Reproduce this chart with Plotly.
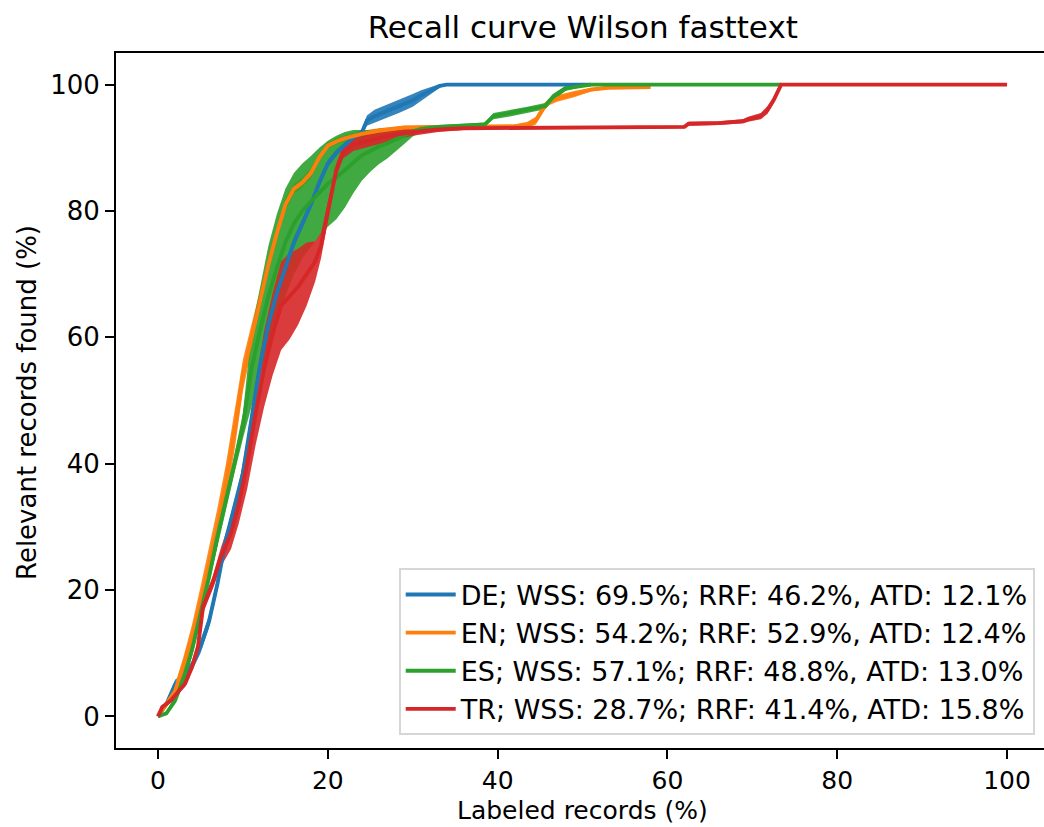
import plotly.graph_objects as go

# ---------------- data ----------------
title_text = "Recall curve Wilson fasttext"
x_label = "Labeled records (%)"
y_label = "Relevant records found (%)"

names = [
    "DE; WSS: 69.5%; RRF: 46.2%, ATD: 12.1%",
    "EN; WSS: 54.2%; RRF: 52.9%, ATD: 12.4%",
    "ES; WSS: 57.1%; RRF: 48.8%, ATD: 13.0%",
    "TR; WSS: 28.7%; RRF: 41.4%, ATD: 15.8%",
]
colors = ["#1f77b4", "#ff7f0e", "#2ca02c", "#d62728"]

de_x = [0, 1, 2, 3, 4, 5, 6, 7, 8, 9, 10, 11, 12, 13, 14, 15, 16, 17, 18, 19, 20, 21, 22, 23, 24,
        24.6, 25.5, 27, 28.5, 30, 31, 32, 33.2, 34, 51]
de_y = [0, 2, 5, 6, 8, 11, 15, 21, 28, 33, 38.5, 47, 55.5, 62, 67, 71, 75, 78, 81, 84.5, 87.5, 89.2, 90.5,
        91.6, 92.4, 94.3, 95, 95.8, 96.6, 97.5, 98.3, 99, 99.8, 100, 100]
de_err = [0.3, 0.5, 0.8, 0.8, 0.8, 1, 1, 1, 1, 1, 1, 1, 1, 1, 1, 1, 1, 0.8, 0.8, 0.8, 0.6, 0.6, 0.5,
          0.5, 0.5, 0.8, 1, 1, 1, 1, 0.8, 0.6, 0.3, 0, 0]

en_x = [0, 1, 2, 3, 4, 5, 6, 7, 8, 9, 10, 11, 12, 13, 14, 15, 16, 17, 18, 19, 20, 21, 22, 24, 26, 29,
        35, 40, 42, 43.5, 44.5, 45.5, 46, 47, 49, 51, 53, 58]
en_y = [0, 2, 4, 8, 12.5, 18, 24, 30, 37, 45, 54, 60, 66, 71.5, 76.5, 81, 83.5, 84.5, 86, 88.5, 90.3,
        91, 91.5, 92.2, 92.7, 93.2, 93.3, 93.3, 93.4, 93.6, 94.3, 96.5, 97.2, 97.8, 98.5, 99.2, 99.5, 99.6]
en_err = [0, 0.5, 1, 1.5, 2, 2.5, 2.5, 3, 3, 3, 2.5, 2, 1.5, 1.2, 1, 1, 0.8, 0.8, 0.8, 0.6, 0.5, 0.5,
          0.5, 0.5, 0.4, 0.3, 0.3, 0.3, 0.3, 0.5, 0.6, 0.6, 0.5, 0.5, 0.5, 0.3, 0.2, 0.2]

es_x = [0, 1, 2, 3, 4, 5, 6, 7, 8, 9, 10, 11, 12, 13, 14, 15, 16, 17, 18, 19, 20, 21, 22, 23, 24, 25,
        26, 27, 28, 29, 30, 31, 33, 36, 38.5, 39.5, 41.6, 43.5, 45.6, 46.5, 48, 51, 73.4]
es_y = [0, 0.5, 2.5, 6, 10.5, 16, 22, 28.5, 34, 40, 46, 55, 61, 66.5, 71, 75, 78, 80, 81.5, 83, 84.3,
        85.3, 86.5, 87.8, 88.8, 89.5, 90.2, 90.7, 91.3, 92, 92.6, 93, 93.3, 93.5, 93.7, 95, 95.5, 96,
        96.6, 98, 99.4, 100, 100]
es_err = [0, 0.3, 0.5, 0.8, 1, 1, 1, 1.2, 1.3, 1.5, 2, 6, 7, 8, 8.5, 8.5, 8, 7.5, 7.2, 7, 6.8, 6.6,
          6, 5, 4, 3.3, 2.8, 2.4, 1.9, 1.4, 0.8, 0.5, 0.3, 0.3, 0.3, 0.5, 0.5, 0.5, 0.5, 0.5, 0.4, 0, 0]

tr_x = [0, 0.5, 1.5, 2.2, 3.2, 4, 4.7, 5.3, 6.4, 7.4, 8.6, 9.5, 10.5, 11.5, 12.5, 13.5, 14.5, 15.5,
        16.5, 17.5, 18.5, 19.2, 19.8, 20.4, 21, 21.8, 23, 25, 27.7, 30, 33, 36, 45, 55, 62, 62.5, 66,
        68.9, 69.5, 71, 71.8, 72.5, 73, 73.4, 100]
tr_y = [0, 1.5, 2.5, 3.7, 5.2, 7.8, 11, 17.3, 21, 25.2, 29, 33.5, 40, 48, 55, 60.5, 65, 66.5, 68, 70,
        72, 74.5, 78.5, 82.5, 86.5, 89.3, 90.5, 91.2, 92, 92.5, 92.9, 93.1, 93.2, 93.2, 93.3, 93.8,
        93.9, 94.2, 94.5, 95, 96, 97.5, 99, 100, 100]
tr_err = [0, 0.3, 0.3, 0.3, 0.5, 0.5, 0.8, 1, 1, 1.5, 2.5, 3, 4, 5, 6, 6.5, 7, 6.8, 6, 5, 3.2, 2,
          1.5, 1.2, 1, 1, 1, 1, 0.8, 0.6, 0.4, 0.3, 0.2, 0.2, 0.2, 0.3, 0.3, 0.3, 0.4, 0.5, 0.6, 0.5,
          0.4, 0, 0]

x_ticks = [0, 20, 40, 60, 80, 100]
y_ticks = [0, 20, 40, 60, 80, 100]

series = [
    (names[0], de_x, de_y, de_err, colors[0]),
    (names[1], en_x, en_y, en_err, colors[1]),
    (names[2], es_x, es_y, es_err, colors[2]),
    (names[3], tr_x, tr_y, tr_err, colors[3]),
]


def rgba(hex_col, a):
    h = hex_col.lstrip("#")
    r, g, b = int(h[0:2], 16), int(h[2:4], 16), int(h[4:6], 16)
    return f"rgba({r},{g},{b},{a})"


FONT = "DejaVu Sans"
fig = go.Figure()

# error bands (drawn below all mean lines, as in matplotlib errorbar)
for name, xs, ys, es, col in series:
    upper = [y + e for y, e in zip(ys, es)]
    lower = [y - e for y, e in zip(ys, es)]
    fig.add_trace(go.Scatter(
        x=list(xs) + list(xs)[::-1],
        y=upper + lower[::-1],
        mode="lines", fill="toself", fillcolor=rgba(col, 0.9),
        line=dict(width=0, color=rgba(col, 0)),
        showlegend=False, hoverinfo="skip",
    ))

# mean lines
for name, xs, ys, es, col in series:
    fig.add_trace(go.Scatter(
        x=xs, y=ys, mode="lines", name=name,
        line=dict(color=col, width=3.9),
    ))

fig.update_layout(
    width=1044, height=827,
    margin=dict(l=116, r=0, t=53, b=79),
    paper_bgcolor="white", plot_bgcolor="white",
    font=dict(family=FONT, size=26, color="black"),
    title=dict(text=title_text, x=0.503, xref="paper", xanchor="center",
               y=1 - 27 / 827, yref="container", yanchor="middle",
               font=dict(family=FONT, size=31, color="black")),
    showlegend=True,
    legend=dict(x=0.990, xanchor="right", y=0.018, yanchor="bottom",
                bgcolor="rgba(255,255,255,0.8)", bordercolor="rgba(204,204,204,0.8)",
                borderwidth=2, font=dict(family=FONT, size=27, color="black"),
                itemwidth=50, tracegroupgap=0),
    annotations=[
        dict(text=x_label, xref="paper", yref="paper", x=0.503, y=(748 - 810) / 695,
             xanchor="center", yanchor="middle", showarrow=False,
             font=dict(family=FONT, size=25, color="black")),
        dict(text=y_label, xref="paper", yref="paper", x=(27 - 116) / 928, y=(748 - 403) / 695,
             xanchor="center", yanchor="middle", textangle=-90, showarrow=False,
             font=dict(family=FONT, size=26, color="black")),
    ],
)

fig.update_xaxes(
    range=[-4.95, -4.95 + 928 / 8.49],
    tickmode="array", tickvals=x_ticks, ticktext=[str(v) for v in x_ticks],
    tickfont=dict(family=FONT, size=25, color="black"),
    showgrid=False, zeroline=False,
    showline=True, linecolor="black", linewidth=2, mirror=True,
    ticks="outside", ticklen=9, tickwidth=2, tickcolor="black",
    ticklabelstandoff=0,
)
fig.update_yaxes(
    range=[-5, 105],
    tickmode="array", tickvals=y_ticks, ticktext=[str(v) for v in y_ticks],
    showgrid=False, zeroline=False,
    showline=True, linecolor="black", linewidth=2, mirror=False,
    ticks="outside", ticklen=9, tickwidth=2, tickcolor="black",
)

fig.write_html("out.html")
